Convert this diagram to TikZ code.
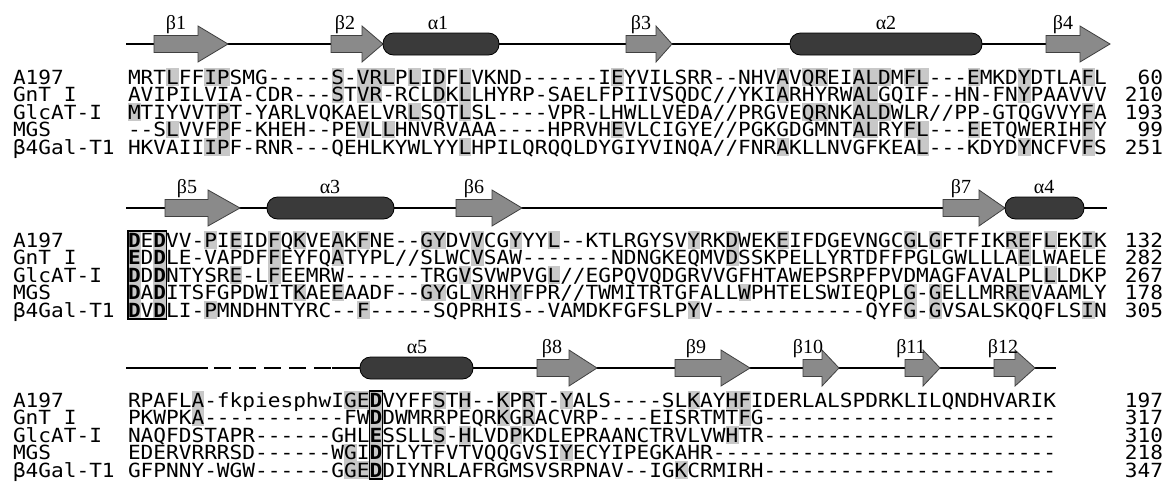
\documentclass[tikz,border=0pt]{standalone}
\usepackage{fontspec}
\newfontfamily\seqfont{DejaVu Sans Mono}[Ligatures=TeXOff, FakeStretch=1.083]
\newfontfamily\lblfont{Liberation Serif}
\definecolor{shadegray}{RGB}{200,200,200}
\definecolor{strandgray}{RGB}{138,138,138}
\definecolor{helixgray}{RGB}{58,58,58}
\newcommand{\pitch}{12.72}
\tikzset{
  seqtxt/.style={font=\seqfont\fontsize{19.5}{19.5}\selectfont, anchor=base west, inner sep=0pt, outer sep=0pt, text height=12pt, text depth=2pt},
  sslab/.style={font=\lblfont\fontsize{20}{20}\selectfont, anchor=base, inner sep=0pt},
  strandsty/.style={fill=strandgray, draw=black!75, line width=0.8pt},
  helixsty/.style={fill=helixgray, draw=black, line width=0.8pt, rounded corners=10.5pt},
  bbline/.style={draw=black, line width=1.8pt},
  motifbox/.style={draw=black, line width=1.2pt}
}
\newcommand{\strand}[4]{\draw[strandsty] (#2,#1-8.5) -- (#3,#1-8.5) -- (#3,#1-18) -- (#4,#1) -- (#3,#1+18) -- (#3,#1+8.5) -- (#2,#1+8.5) -- cycle;}
\newcommand{\helix}[3]{\draw[helixsty] (#2,#1-11) rectangle (#3,#1+11);}
\newcommand{\seqrow}[6]{%
  \foreach \c in {#6} {\fill[shadegray] ({128+(\c-1)*\pitch},{#2-8.75}) rectangle ++(\pitch,17.5);}
  \node[seqtxt] (#1l) at (13,#2+7.1) {#3};
  \node[seqtxt] (#1s) at (128,#2+7.1) {#4};
  \node[seqtxt,anchor=base east] (#1n) at (1163,#2+7.1) {#5};
}
\begin{document}
\begin{tikzpicture}[x=1pt,y=-1pt]
\fill[white] (0,0) rectangle (1168,491);
\useasboundingbox (0,0) rectangle (1168,491);

% ---------- block 1 secondary structure ----------
\draw[bbline] (126,44) -- (1108,44);
\strand{44}{154}{198}{228}
\strand{44}{331}{362}{383}
\helix{44}{383}{499}
\strand{44}{626}{656}{672}
\helix{44}{790}{982}
\strand{44}{1046}{1080}{1110}
\node[sslab] (lb1) at (176,29) {β1};
\node[sslab] (lb2) at (345,29) {β2};
\node[sslab] (la1) at (438,29) {α1};
\node[sslab] (lb3) at (641,29) {β3};
\node[sslab] (la2) at (886,29) {α2};
\node[sslab] (lb4) at (1063,29) {β4};

% ---------- block 1 alignment ----------
\seqrow{ra}{77}{A197}{MRTLFFIPSMG-----S-VRLPLIDFLVKND------IEYVILSRR--NHVAVQREIALDMFL---EMKDYDTLAFL}{60}{4,7,8,17,19,20,21,23,25,27,39,52,54,55,58,59,60,62,63,67,71,76}
\seqrow{rb}{94.5}{GnT I}{AVIPILVIA-CDR---STVR-RCLDKLLHYRP-SAELFPIIVSQDC//YKIARHYRWALGQIF--HN-FNYPAAVVV}{210}{17,19,20,25,27,52,58,59,71}
\seqrow{rc}{112}{GlcAT-I}{MTIYVVTPT-YARLVQKAELVRLSQTLSL----VPR-LHWLLVEDA//PRGVEQRNKALDWLR//PP-GTQGVVYFA}{193}{1,8,23,27,54,55,58,59,60,76}
\seqrow{rd}{129.5}{MGS}{--SLVVFPF-KHEH--PEVLLHNVRVAAA----HPRVHEVLCIGYE//PGKGDGMNTALRYFL---EETQWERIHFY}{99}{4,8,19,21,39,58,59,62,63,67,76}
\seqrow{re}{147}{β4Gal-T1}{HKVAIIIPF-RNR---QEHLKYWLYYLHPILQRQQLDYGIYVINQA//FNRAKLLNVGFKEAL---KDYDYNCFVFS}{251}{7,8,27,52,63,71,76}

% ---------- block 2 secondary structure ----------
\draw[bbline] (126,208) -- (1107,208);
\strand{208}{165}{208}{240}
\helix{208}{267}{394}
\strand{208}{456}{492}{522}
\strand{208}{943}{979}{1005}
\helix{208}{1005}{1084}
\node[sslab] (lb5) at (187,193) {β5};
\node[sslab] (la3) at (330,193) {α3};
\node[sslab] (lb6) at (474,193) {β6};
\node[sslab] (lb7) at (961,193) {β7};
\node[sslab] (la4) at (1044,193) {α4};

% ---------- block 2 alignment ----------
\seqrow{sa}{240}{A197}{\textbf{D}E\textbf{D}VV-PIEIDFQKVEAKFNE--GYDVVCGYYYL--KTLRGYSVYRKDWEKEIFDGEVNGCGLGFTFIKREFLEKIK}{132}{1,3,7,9,12,14,17,19,24,25,28,31,34,45,48,52,62,64,70,71,73,76}
\seqrow{sb}{257.5}{GnT I}{\textbf{E}D\textbf{D}LE-VAPDFFEYFQATYPL//SLWCVSAW-------NDNGKEQMVDSSKPELLYRTDFFPGLGWLLLAELWAELE}{282}{1,3,12,17,28,48,71}
\seqrow{sc}{275}{GlcAT-I}{\textbf{D}D\textbf{D}NTYSRE-LFEEMRW------TRGVSVWPVGL//EGPQVQDGRVVGFHTAWEPSRPFPVDMAGFAVALPLLLDKP}{267}{1,3,9,12,27,34,73}
\seqrow{sd}{292.5}{MGS}{\textbf{D}A\textbf{D}ITSFGPDWITKAEEAADF--GYGLVRHYFPR//TWMITRTGFALLWPHTELSWIEQPLG-GELLMRREVAAMLY}{178}{1,3,14,17,24,25,28,31,49,62,64,70,71}
\seqrow{se}{310}{β4Gal-T1}{\textbf{D}V\textbf{D}LI-PMNDHNTYRC--F-----SQPRHIS--VAMDKFGFSLPYV------------QYFG-GVSALSKQQFLSIN}{305}{1,3,7,19,45,62,64,76}
\draw[motifbox] (128,231) rectangle ({128+3*\pitch},319);

% ---------- block 3 secondary structure ----------
\draw[bbline] (126,368) -- (208,368);
\draw[bbline, dash pattern=on 17pt off 8pt] (214,368) -- (332,368);
\draw[bbline] (332,368) -- (1056,368);
\helix{368}{360}{473}
\strand{368}{537}{569}{597}
\strand{368}{675}{721}{750}
\strand{368}{803}{822}{839}
\strand{368}{905}{923}{940}
\strand{368}{994}{1015}{1035}
\node[sslab] (la5) at (417,353) {α5};
\node[sslab] (lb8) at (552,353) {β8};
\node[sslab] (lb9) at (696,353) {β9};
\node[sslab] (lb10) at (808,353) {β10};
\node[sslab] (lb11) at (911,353) {β11};
\node[sslab] (lb12) at (1003,353) {β12};

% ---------- block 3 alignment ----------
\seqrow{ta}{400}{A197}{RPAFLA-fkpiesphwIGE\textbf{D}VYFFSTH--KPRT-YALS----SLKAYHFIDERLALSPDRKLILQNDHVARIK}{197}{6,18,19,20,25,27,30,32,35,45,48,49}
\seqrow{tb}{417.5}{GnT I}{PKWPKA-----------FW\textbf{D}DWMRRPEQRKGRACVRP----EISRTMTFG-----------------------}{317}{6,20,30,32,49}
\seqrow{tc}{435}{GlcAT-I}{NAQFDSTAPR------GHL\textbf{E}SSLLS-HLVDPKDLEPRAANCTRVLVWHTR-----------------------}{310}{20,25,27,31,48}
\seqrow{td}{452.5}{MGS}{EDERVRRRSD------WGI\textbf{D}TLYTFVTVQQGVSIYECYIPEGKAHR---------------------------}{218}{18,20,35}
\seqrow{te}{470}{β4Gal-T1}{GFPNNY-WGW------GGE\textbf{D}DIYNRLAFRGMSVSRPNAV--IGKCRMIRH-----------------------}{347}{18,19,20,44}
\draw[motifbox] ({128+19*\pitch},391) rectangle ({128+20*\pitch},479);
\end{tikzpicture}
\end{document}
